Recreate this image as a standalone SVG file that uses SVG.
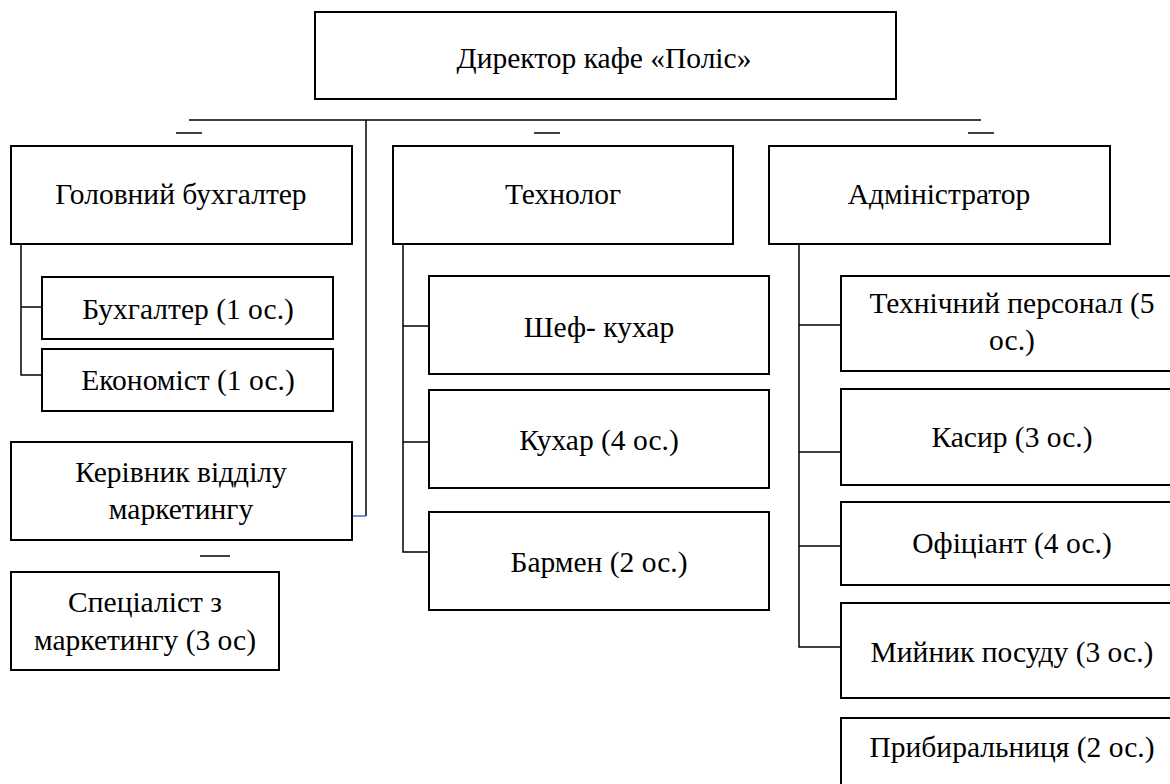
<svg xmlns="http://www.w3.org/2000/svg" width="1170" height="784" viewBox="0 0 1170 784">
<rect width="1170" height="784" fill="#fff"/>
<g id="connectors" stroke="#000" stroke-width="1.5" fill="none">
<line x1="189" y1="120" x2="981" y2="120"/>
<line x1="366" y1="120" x2="366" y2="516"/>
<line x1="352" y1="516" x2="366" y2="516" stroke="#4472C4"/>
<line x1="176" y1="133" x2="202" y2="133"/>
<line x1="534" y1="133" x2="560" y2="133"/>
<line x1="968" y1="133" x2="994" y2="133"/>
<line x1="200" y1="556" x2="230" y2="556"/>
<polyline points="21,244 21,375 42,375"/>
<line x1="21" y1="307" x2="42" y2="307"/>
<polyline points="403,244 403,552 429,552"/>
<line x1="403" y1="326" x2="429" y2="326"/>
<line x1="403" y1="442" x2="429" y2="442"/>
<polyline points="799,244 799,647 841,647"/>
<line x1="799" y1="325" x2="841" y2="325"/>
<line x1="799" y1="452" x2="841" y2="452"/>
<line x1="799" y1="546" x2="841" y2="546"/>
</g>
<g id="nodes" fill="#fff" stroke="#000" stroke-width="2">
<g id="director"><rect x="315" y="12" width="581" height="87"/><text x="604" y="68" font-family="'Liberation Serif'" font-size="29.5" text-anchor="middle" fill="#000" stroke="none">Директор кафе «Поліс»</text></g>
<g id="chief-accountant"><rect x="11" y="146" width="341" height="98"/><text x="181" y="204" font-family="'Liberation Serif'" font-size="29.5" text-anchor="middle" fill="#000" stroke="none">Головний бухгалтер</text></g>
<g id="technologist"><rect x="393" y="146" width="340" height="98"/><text x="563" y="204" font-family="'Liberation Serif'" font-size="29.5" text-anchor="middle" fill="#000" stroke="none">Технолог</text></g>
<g id="administrator"><rect x="769" y="146" width="341" height="98"/><text x="939" y="204" font-family="'Liberation Serif'" font-size="29.5" text-anchor="middle" fill="#000" stroke="none">Адміністратор</text></g>
<g id="accountant"><rect x="42" y="277" width="291" height="62"/><text x="188" y="319" font-family="'Liberation Serif'" font-size="29.5" text-anchor="middle" fill="#000" stroke="none">Бухгалтер (1 ос.)</text></g>
<g id="economist"><rect x="42" y="349" width="291" height="62"/><text x="188" y="390" font-family="'Liberation Serif'" font-size="29.5" text-anchor="middle" fill="#000" stroke="none">Економіст (1 ос.)</text></g>
<g id="marketing-head"><rect x="11" y="442" width="341" height="98"/><text x="181" y="482" font-family="'Liberation Serif'" font-size="29.5" text-anchor="middle" fill="#000" stroke="none">Керівник відділу</text><text x="181" y="519" font-family="'Liberation Serif'" font-size="29.5" text-anchor="middle" fill="#000" stroke="none">маркетингу</text></g>
<g id="marketing-specialist"><rect x="11" y="572" width="268" height="98"/><text x="145" y="612" font-family="'Liberation Serif'" font-size="29.5" text-anchor="middle" fill="#000" stroke="none">Спеціаліст з</text><text x="145" y="650" font-family="'Liberation Serif'" font-size="29.5" text-anchor="middle" fill="#000" stroke="none">маркетингу (3 ос)</text></g>
<g id="chef"><rect x="429" y="276" width="340" height="98"/><text x="599" y="337" font-family="'Liberation Serif'" font-size="29.5" text-anchor="middle" fill="#000" stroke="none">Шеф- кухар</text></g>
<g id="cook"><rect x="429" y="390" width="340" height="98"/><text x="599" y="450" font-family="'Liberation Serif'" font-size="29.5" text-anchor="middle" fill="#000" stroke="none">Кухар (4 ос.)</text></g>
<g id="barman"><rect x="429" y="512" width="340" height="98"/><text x="599" y="572" font-family="'Liberation Serif'" font-size="29.5" text-anchor="middle" fill="#000" stroke="none">Бармен (2 ос.)</text></g>
<g id="tech-staff"><rect x="841" y="276" width="342" height="95"/><text x="1012" y="313" font-family="'Liberation Serif'" font-size="29.5" text-anchor="middle" fill="#000" stroke="none">Технічний персонал (5</text><text x="1012" y="350" font-family="'Liberation Serif'" font-size="29.5" text-anchor="middle" fill="#000" stroke="none">ос.)</text></g>
<g id="cashier"><rect x="841" y="389" width="342" height="96"/><text x="1012" y="447" font-family="'Liberation Serif'" font-size="29.5" text-anchor="middle" fill="#000" stroke="none">Касир (3 ос.)</text></g>
<g id="waiter"><rect x="841" y="502" width="342" height="83"/><text x="1012" y="553" font-family="'Liberation Serif'" font-size="29.5" text-anchor="middle" fill="#000" stroke="none">Офіціант (4 ос.)</text></g>
<g id="dishwasher"><rect x="841" y="603" width="342" height="95"/><text x="1012" y="662" font-family="'Liberation Serif'" font-size="29.5" text-anchor="middle" fill="#000" stroke="none">Мийник посуду (3 ос.)</text></g>
<g id="cleaner"><rect x="841" y="718" width="342" height="90"/><text x="1012" y="757" font-family="'Liberation Serif'" font-size="29.5" text-anchor="middle" fill="#000" stroke="none">Прибиральниця (2 ос.)</text></g>
</g>
</svg>
